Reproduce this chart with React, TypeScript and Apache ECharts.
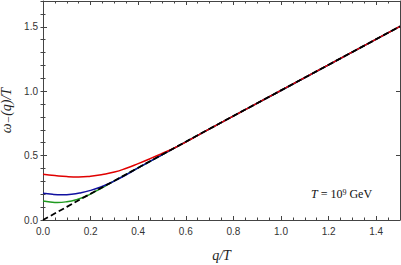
import React, { useEffect, useRef } from "react";
import * as echarts from "echarts";

// q/T values and ω_-(q)/T for each curve
const qDashed = [0, 0.1, 0.2, 0.3, 0.4, 0.5, 0.7, 1.0, 1.5];
const wDashed = [0, 0.102, 0.204, 0.305, 0.406, 0.507, 0.708, 1.006, 1.503];

const qRed = [0, 0.05, 0.1, 0.15, 0.2, 0.25, 0.3, 0.35, 0.4, 0.45, 0.5, 0.55, 0.6, 0.7, 1.0, 1.5];
const wRed = [0.355, 0.345, 0.337, 0.334, 0.34, 0.353, 0.372, 0.402, 0.438, 0.476, 0.516, 0.557, 0.605, 0.707, 1.006, 1.503];

const qBlue = [0, 0.04, 0.08, 0.12, 0.16, 0.2, 0.24, 0.28, 0.32, 0.36, 0.4, 0.5, 0.7, 1.0, 1.5];
const wBlue = [0.207, 0.199, 0.196, 0.2, 0.212, 0.23, 0.254, 0.285, 0.322, 0.362, 0.404, 0.506, 0.707, 1.005, 1.503];

const qGreen = [0, 0.03, 0.06, 0.1, 0.14, 0.18, 0.22, 0.26, 0.3, 0.4, 0.7, 1.0, 1.5];
const wGreen = [0.147, 0.14, 0.136, 0.142, 0.158, 0.184, 0.222, 0.262, 0.304, 0.405, 0.707, 1.005, 1.503];

const xTicks = [0, 1.5, 0.2];
const yTicks = [0, 1.7, 0.5];

const zip = (a: number[], b: number[]) => a.map((v, i) => [v, b[i]]);

export default function App() {
  const ref = useRef<HTMLDivElement>(null);
  useEffect(() => {
    document.body.style.margin = "0";
    const chart = echarts.init(ref.current!, null, { renderer: "svg" });
    const axisColor = "#444";
    const labelStyle = { color: "#333", fontSize: 10, fontFamily: "Liberation Sans, Arial, sans-serif", showMaxLabel: false };
    const baseX = {
      type: "value" as const,
      min: xTicks[0],
      max: xTicks[1],
      interval: xTicks[2],
      splitLine: { show: false },
      axisLine: { show: true, onZero: false, lineStyle: { color: axisColor, width: 1 } },
      axisTick: { show: true, inside: true, length: 4, lineStyle: { color: axisColor } },
      minorTick: { show: true, splitNumber: 4, length: 2.5, lineStyle: { color: axisColor } },
    };
    const baseY = {
      type: "value" as const,
      min: yTicks[0],
      max: yTicks[1],
      interval: yTicks[2],
      splitLine: { show: false },
      axisLine: { show: true, onZero: false, lineStyle: { color: axisColor, width: 1 } },
      axisTick: { show: true, inside: true, length: 4, lineStyle: { color: axisColor } },
    };
    const minorY = {
      type: "value" as const,
      min: yTicks[0],
      max: yTicks[1],
      interval: 0.1,
      splitLine: { show: false },
      axisLine: { show: false },
      axisLabel: { show: false },
      axisTick: { show: true, inside: true, length: 2.5, lineStyle: { color: axisColor } },
    };
    chart.setOption({
      animation: false,
      grid: { left: 43, right: 1, top: 1, bottom: 45, containLabel: false, outerBoundsMode: "none" },
      xAxis: [
        {
          ...baseX,
          position: "bottom",
          axisLabel: { ...labelStyle, margin: 6, formatter: (v: number) => v.toFixed(1) },
          name: "q/T",
          nameLocation: "middle",
          nameGap: 28,
          nameTextStyle: { fontFamily: "Liberation Serif, serif", fontStyle: "italic", fontSize: 14, color: "#222" },
        },
        { ...baseX, position: "top", axisLabel: { show: false } },
      ],
      yAxis: [
        {
          ...baseY,
          position: "left",
          axisLabel: { ...labelStyle, margin: 5, formatter: (v: number) => v.toFixed(1) },
          name: "ω₋(q)/T",
          nameLocation: "middle",
          nameGap: 24,
          nameTextStyle: { fontFamily: "Liberation Serif, DejaVu Serif, serif", fontStyle: "italic", fontSize: 14, color: "#222" },
        },
        { ...baseY, position: "right", axisLabel: { show: false } },
        { ...minorY, position: "left" },
        { ...minorY, position: "right" },
      ],
      graphic: [
        {
          type: "text",
          left: 311,
          top: 188,
          style: {
            text: "{i|T} = 10{s|9} GeV",
            rich: {
              i: { fontFamily: "Liberation Serif, serif", fontStyle: "italic", fontSize: 12, fill: "#111" },
              s: { fontFamily: "Liberation Serif, serif", fontSize: 8, fill: "#111", verticalAlign: "top", padding: [0, 0, 4, 0] },
            },
            fontFamily: "Liberation Serif, serif",
            fontSize: 12,
            fill: "#111",
          },
        },
      ],
      series: [
        { type: "line", data: zip(qGreen, wGreen), showSymbol: false, smooth: true, lineStyle: { color: "#1f9a1f", width: 1.5 }, z: 2 },
        { type: "line", data: zip(qBlue, wBlue), showSymbol: false, smooth: true, lineStyle: { color: "#1010a0", width: 1.5 }, z: 3 },
        { type: "line", data: zip(qRed, wRed), showSymbol: false, smooth: true, lineStyle: { color: "#e00000", width: 1.5 }, z: 4 },
        { type: "line", data: zip(qDashed, wDashed), showSymbol: false, smooth: true, lineStyle: { color: "#000", width: 1.8, type: [6, 3] }, z: 5 },
      ],
    });
    return () => chart.dispose();
  }, []);
  return <div ref={ref} style={{ width: 401, height: 265 }} />;
}
